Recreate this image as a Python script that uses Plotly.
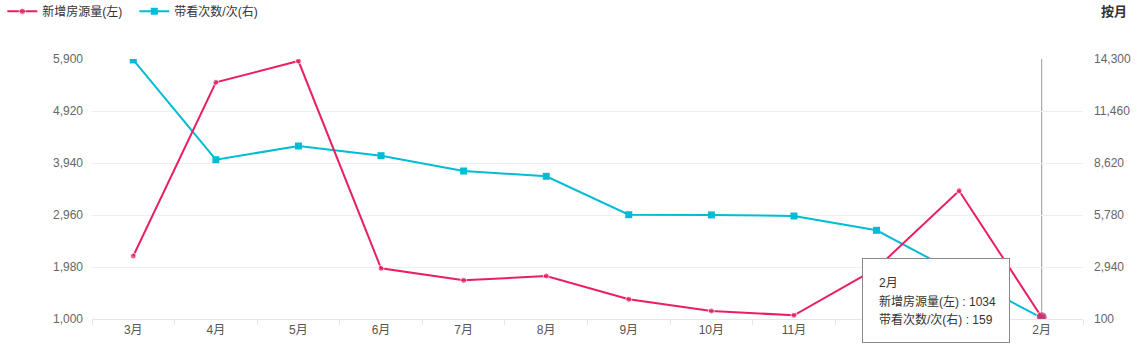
import plotly.graph_objects as go

months = ["3月", "4月", "5月", "6月", "7月", "8月", "9月", "10月", "11月", "12月", "1月", "2月"]
new_listings = [2187, 5460, 5862, 1955, 1729, 1810, 1371, 1151, 1070, 1954, 3418, 1034]
viewings = [14250, 8800, 9548, 9019, 8183, 7894, 5797, 5785, 5725, 4944, 2550, 159]

left_ticks = [1000, 1980, 2960, 3940, 4920, 5900]
right_ticks = [100, 2940, 5780, 8620, 11460, 14300]

name_left = "新增房源量(左)"
name_right = "带看次数/次(右)"

RED = "#e91e63"
BLUE = "#00bcd4"
FONT = "Liberation Sans, Noto Sans CJK SC, sans-serif"

fig = go.Figure()
# blue series on the base axis (right side), red series on the overlaying axis (left side)
fig.add_trace(go.Scatter(
    x=months, y=viewings, name=name_right, mode="lines+markers",
    line=dict(color=BLUE, width=2),
    marker=dict(color=BLUE, size=7, symbol="square"),
    yaxis="y", legendrank=2,
))
fig.add_trace(go.Scatter(
    x=months, y=new_listings, name=name_left, mode="lines+markers",
    line=dict(color=RED, width=2),
    marker=dict(color=RED, size=[6] * (len(months) - 1) + [11], symbol="circle"),
    yaxis="y2", legendrank=1,
))

fig.update_layout(
    width=1148, height=353,
    margin=dict(l=92, r=65, t=59, b=34, autoexpand=False),
    paper_bgcolor="white", plot_bgcolor="white",
    font=dict(family=FONT, size=12, color="#666"),
    showlegend=True,
    legend=dict(orientation="h", x=-0.0905, xanchor="left", y=1.239, yanchor="top",
                font=dict(size=12, color="#333"), traceorder="normal",
                entrywidth=87, bgcolor="rgba(0,0,0,0)"),
    xaxis=dict(type="category", categoryorder="array", categoryarray=months,
               range=[-0.5, len(months) - 0.5],
               showgrid=False, showline=True, linecolor="#e6e6e6", linewidth=1,
               ticks="outside", tickson="boundaries", ticklen=5, tickcolor="#e6e6e6",
               tickfont=dict(size=12, color="#555"), zeroline=False, automargin=False),
    yaxis=dict(range=[100, 14300], tickvals=right_ticks,
               ticktext=[f"{v:,}" for v in right_ticks], side="right",
               showgrid=True, gridcolor="#efefef", gridwidth=1, zeroline=False,
               showline=False, ticks="", ticklabelstandoff=10, automargin=False,
               tickfont=dict(size=12, color="#666")),
    yaxis2=dict(range=[1000, 5900], tickvals=left_ticks,
                ticktext=[f"{v:,}" for v in left_ticks],
                overlaying="y", side="left", showgrid=False, zeroline=False,
                showline=False, ticks="", ticklabelstandoff=8, automargin=False,
                tickfont=dict(size=12, color="#666")),
    hovermode=False,
)

# "按月" label
fig.add_annotation(text="<b>按月</b>", xref="paper", yref="paper", x=1.031, y=(319 - 12) / 260,
                   xanchor="center", yanchor="middle",
                   showarrow=False, font=dict(size=13, color="#333"))

# hover axis pointer line
fig.add_shape(type="line", xref="x", yref="paper", x0=months[-1], x1=months[-1], y0=0, y1=1,
              line=dict(color="#999", width=1), layer="below")

# tooltip box (annotation so it covers tick labels)
box_x = (936 - 91.7) / 991.6
box_y = (319 - 300.5) / 260
fig.add_annotation(text=" ", xref="paper", yref="paper", x=box_x, y=box_y,
                   xanchor="center", yanchor="middle", showarrow=False,
                   width=146, height=83, bgcolor="white", bordercolor="#888",
                   borderwidth=1, borderpad=0)
tip_lines = [months[-1], f"{name_left} : {new_listings[-1]}", f"{name_right} : {viewings[-1]}"]
for i, t in enumerate(tip_lines):
    fig.add_annotation(text=t, xref="paper", yref="paper", x=(877.5 - 91.7) / 991.6,
                       y=(319 - (283 + 18 * i)) / 260,
                       xanchor="left", yanchor="middle", showarrow=False,
                       font=dict(size=12, color="#333"))

fig.write_html("out.html")
